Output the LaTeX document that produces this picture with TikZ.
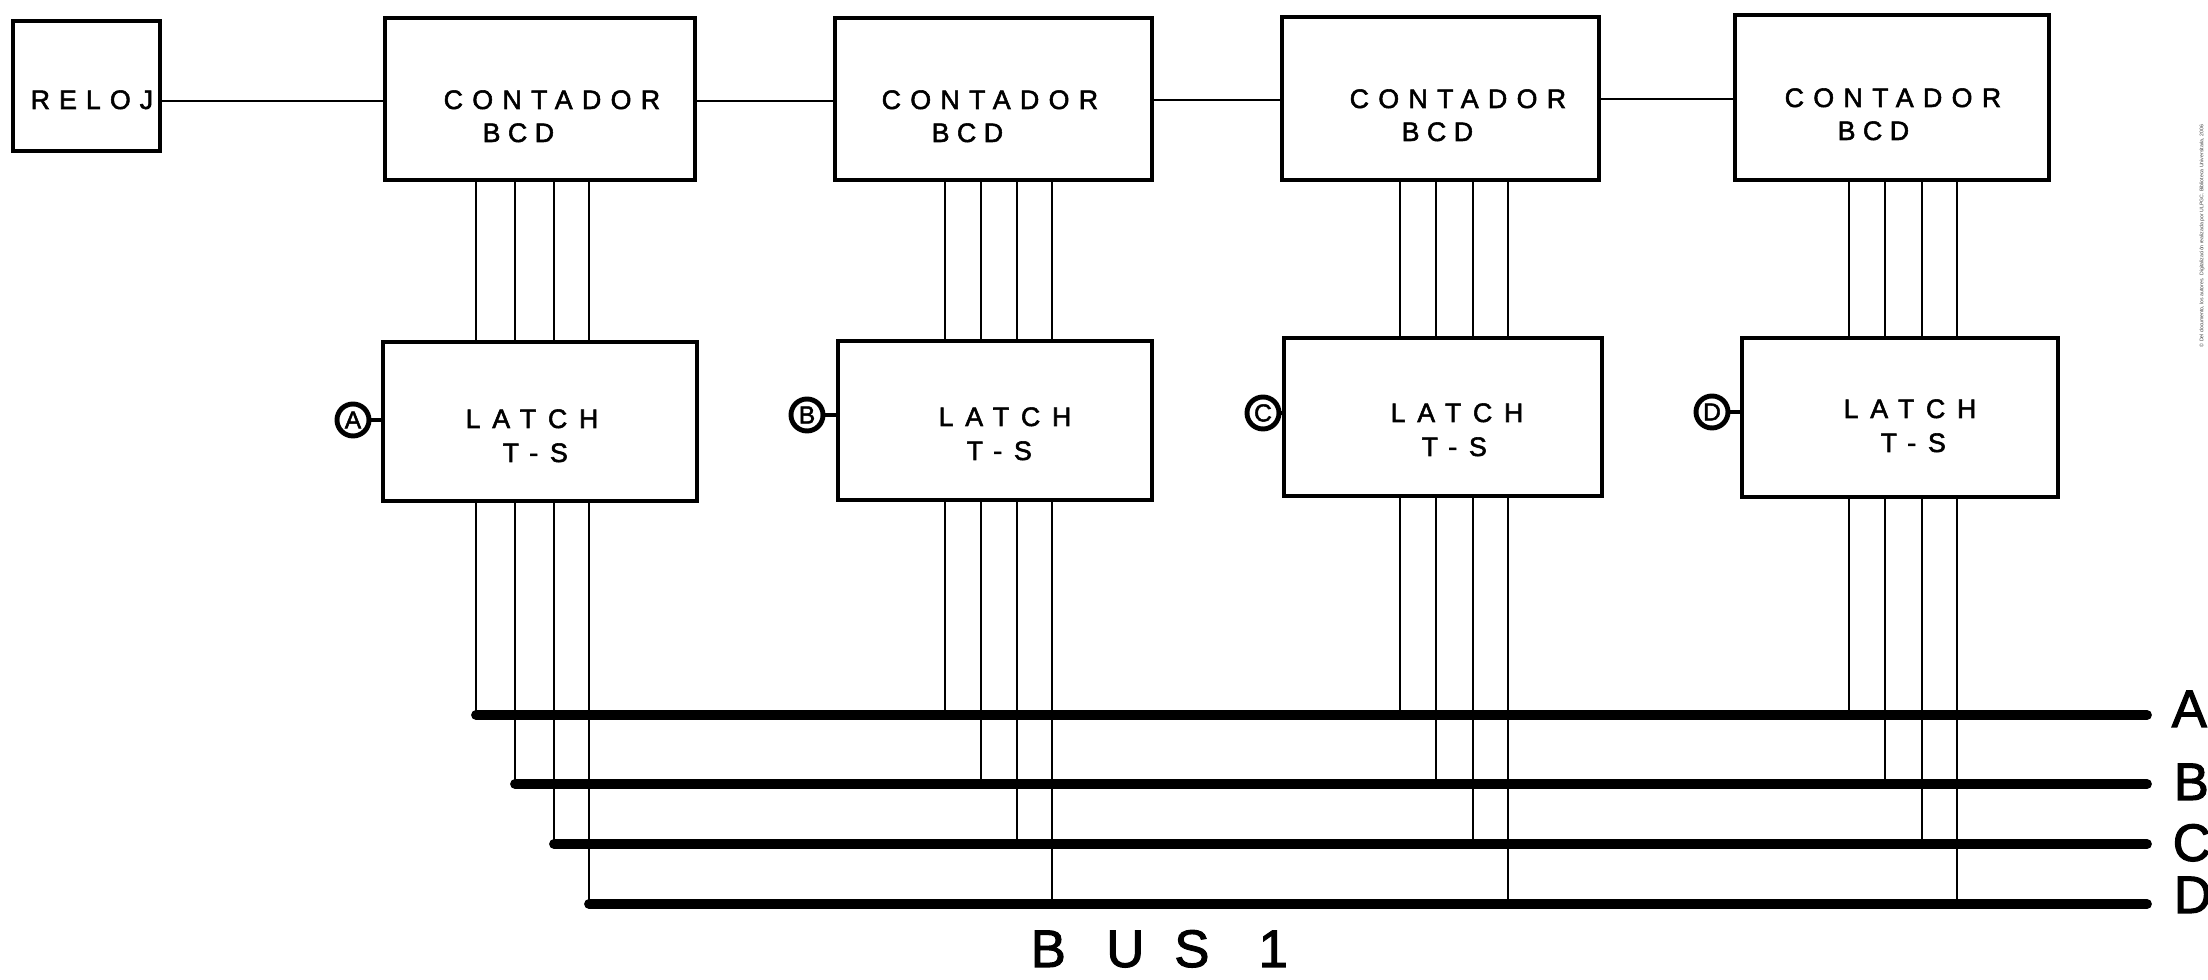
\documentclass[tikz,border=0pt]{standalone}
\usepackage{fontspec}
\setmainfont{Liberation Sans}[FakeBold=2]
\newfontfamily\lsCont{Liberation Sans}[LetterSpace=35,FakeBold=2]
\newfontfamily\lsLatch{Liberation Sans}[LetterSpace=44,FakeBold=2]
\newfontfamily\lsBcd{Liberation Sans}[LetterSpace=28,FakeBold=2]
\newfontfamily\lsRel{Liberation Sans}[LetterSpace=34,FakeBold=2]
\newfontfamily\plain{Liberation Sans}
\begin{document}
\begin{tikzpicture}[x=0.01cm,y=-0.01cm,
  blk/.style={draw,line width=1.3pt,inner sep=0pt,outer sep=0pt},
  wire/.style={line width=0.6pt},
  bus/.style={line width=2.8pt,line cap=round},
  txt/.style={anchor=base west,inner sep=0pt,font=\fontsize{7.6}{9}\selectfont},
  big/.style={anchor=base west,inner sep=0pt,font=\fontsize{15}{18}\selectfont},
  tag/.style={draw,circle,line width=1.4pt,minimum size=0.32cm,inner sep=0pt,font=\fontsize{7}{8}\selectfont},
  stub/.style={line width=1.3pt}]
\useasboundingbox (0,0) rectangle (2208,980);

% boxes
\node[blk,minimum width=1.47cm,minimum height=1.30cm] (rel) at (86.5,86) {};
\node[blk,minimum width=3.10cm,minimum height=1.62cm] (c1) at (540,99) {};
\node[blk,minimum width=3.17cm,minimum height=1.62cm] (c2) at (993.5,99) {};
\node[blk,minimum width=3.17cm,minimum height=1.63cm] (c3) at (1440.5,98.5) {};
\node[blk,minimum width=3.14cm,minimum height=1.65cm] (c4) at (1892,97.5) {};
\node[blk,minimum width=3.14cm,minimum height=1.59cm] (l1) at (540,421.5) {};
\node[blk,minimum width=3.14cm,minimum height=1.59cm] (l2) at (995,420.5) {};
\node[blk,minimum width=3.18cm,minimum height=1.58cm] (l3) at (1443,417) {};
\node[blk,minimum width=3.16cm,minimum height=1.59cm] (l4) at (1900,417.5) {};

% texts
\node[txt] (relt) at (30,109) {\lsRel RELOJ};
\node[txt] (c1a) at (443,109) {\lsCont CONTADOR};
\node[txt] (c1b) at (482,142) {\lsBcd BCD};
\node[txt] (c2a) at (881,109) {\lsCont CONTADOR};
\node[txt] (c2b) at (931,142) {\lsBcd BCD};
\node[txt] (c3a) at (1349,108) {\lsCont CONTADOR};
\node[txt] (c3b) at (1401,141) {\lsBcd BCD};
\node[txt] (c4a) at (1784,107) {\lsCont CONTADOR};
\node[txt] (c4b) at (1837,140) {\lsBcd BCD};
\node[txt] (l1a) at (465,428) {\lsLatch LATCH};
\node[txt] (l1b) at (502,462) {\lsLatch T-S};
\node[txt] (l2a) at (938,426) {\lsLatch LATCH};
\node[txt] (l2b) at (966,460) {\lsLatch T-S};
\node[txt] (l3a) at (1390,422) {\lsLatch LATCH};
\node[txt] (l3b) at (1421,456) {\lsLatch T-S};
\node[txt] (l4a) at (1843,418) {\lsLatch LATCH};
\node[txt] (l4b) at (1880,452) {\lsLatch T-S};

% chain links
\draw[wire] (rel.east |- 0,101) -- (c1.west |- 0,101);
\draw[wire] (c1.east |- 0,101) -- (c2.west |- 0,101);
\draw[wire] (c2.east |- 0,100) -- (c3.west |- 0,100);
\draw[wire] (c3.east |- 0,99) -- (c4.west |- 0,99);

% tags
\node[tag] (tA) at (353,420) {A};
\node[tag] (tB) at (807,415) {B};
\node[tag] (tC) at (1263,413) {C};
\node[tag] (tD) at (1712,412) {D};
\draw[stub] (tA.east) -- (l1.west |- tA.east);
\draw[stub] (tB.east) -- (l2.west |- tB.east);
\draw[stub] (tC.east) -- (l3.west |- tC.east);
\draw[stub] (tD.east) -- (l4.west |- tD.east);

% bus
\coordinate (bAs) at (476,715); \coordinate (bAe) at (2147,715);
\coordinate (bBs) at (515,784); \coordinate (bBe) at (2147,784);
\coordinate (bCs) at (554,844); \coordinate (bCe) at (2147,844);
\coordinate (bDs) at (589,904); \coordinate (bDe) at (2147,904);
\draw[bus] (bAs) -- (bAe);
\draw[bus] (bBs) -- (bBe);
\draw[bus] (bCs) -- (bCe);
\draw[bus] (bDs) -- (bDe);
\node[big] (labA) at (2171,727) {A};
\node[big] (labB) at (2173,800) {B};
\node[big] (labC) at (2172,861) {C};
\node[big] (labD) at (2173,913) {D};

% vertical wires: counter -> latch -> bus
\foreach \c/\l/\xa/\xb/\xc/\xd in {c1/l1/476/515/554/589, c2/l2/945/981/1017/1052, c3/l3/1400/1436/1473/1508, c4/l4/1849/1885/1922/1957}{
  \foreach \xx in {\xa,\xb,\xc,\xd}{
    \draw[wire] (\c.south -| \xx,0) -- (\l.north -| \xx,0);
  }
  \draw[wire] (\l.south -| \xa,0) -- (bAs -| \xa,0);
  \draw[wire] (\l.south -| \xb,0) -- (bBs -| \xb,0);
  \draw[wire] (\l.south -| \xc,0) -- (bCs -| \xc,0);
  \draw[wire] (\l.south -| \xd,0) -- (bDs -| \xd,0);
}

\node[big] (bus1) at (1030,967) {B\hspace{11.5pt}U\hspace{8.5pt}S\hspace{14pt}1};

% archive note
\node[rotate=90,inner sep=0pt,text=black!75,font=\plain\fontsize{1.47}{2}\selectfont] (note) at (2202,236) {© Del documento, los autores. Digitalización realizada por ULPGC. Biblioteca Universitaria, 2006};
\end{tikzpicture}
\end{document}
